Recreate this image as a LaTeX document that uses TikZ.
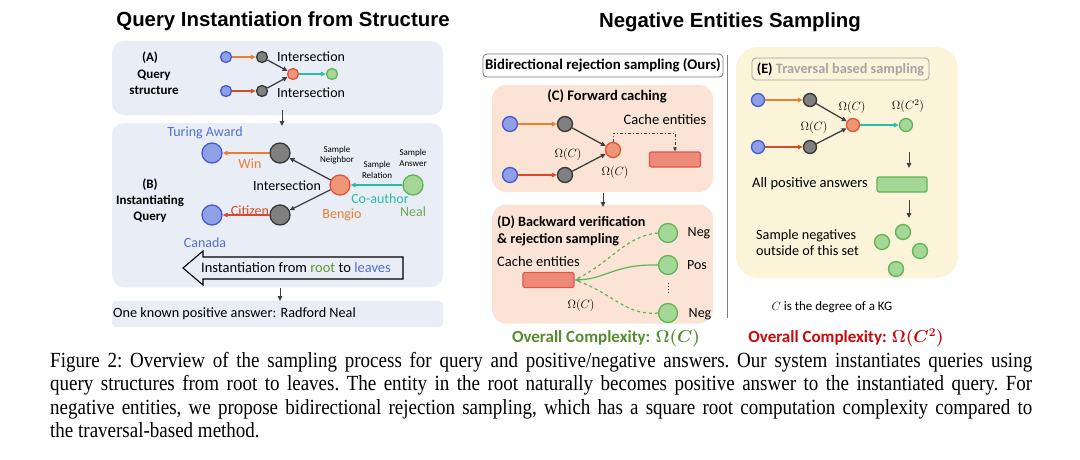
\documentclass[tikz,border=0pt]{standalone}
\usepackage{amsmath}
\usepackage{bm}
\usepackage{fontspec}
\setmainfont{Carlito}
\newfontfamily\arialfont{Liberation Sans}
\newfontfamily\timesfont[FakeStretch=0.88]{Liberation Serif}
\usetikzlibrary{arrows.meta}
\definecolor{panelblue}{RGB}{233,237,246}
\definecolor{panelpeach}{RGB}{251,228,214}
\definecolor{panelcream}{RGB}{251,244,217}
\definecolor{bfill}{RGB}{143,160,230}
\definecolor{bdraw}{RGB}{70,90,210}
\definecolor{gfill}{RGB}{128,128,128}
\definecolor{gdraw}{RGB}{55,55,55}
\definecolor{rfill}{RGB}{240,150,120}
\definecolor{rdraw}{RGB}{225,85,50}
\definecolor{nfill}{RGB}{165,215,150}
\definecolor{ndraw}{RGB}{95,180,90}
\definecolor{orangec}{RGB}{237,125,49}
\definecolor{redc}{RGB}{215,75,40}
\definecolor{tealc}{RGB}{40,190,165}
\definecolor{darkc}{RGB}{64,64,64}
\definecolor{bluetext}{RGB}{85,110,210}
\definecolor{greentext}{RGB}{110,170,90}
\definecolor{roottext}{RGB}{100,150,50}
\definecolor{cgreen}{RGB}{85,140,45}
\definecolor{cred}{RGB}{200,10,10}
\definecolor{cachefill}{RGB}{236,140,120}
\definecolor{cachedraw}{RGB}{230,80,80}
\definecolor{grayborder}{RGB}{120,120,120}
\definecolor{graytext}{RGB}{165,165,165}
\tikzset{
  nd/.style={circle, draw, line width=1.3pt, inner sep=0pt, minimum size=#1},
  nd/.default=12pt,
  bluenode/.style={nd=#1, fill=bfill, draw=bdraw},
  bluenode/.default=12pt,
  graynode/.style={nd=#1, fill=gfill, draw=gdraw},
  graynode/.default=12pt,
  rednode/.style={nd=#1, fill=rfill, draw=rdraw},
  rednode/.default=12pt,
  greennode/.style={nd=#1, fill=nfill, draw=ndraw},
  greennode/.default=12pt,
  arr/.style={-{Triangle[length=5pt,width=4.5pt]}, line width=1.3pt},
  panel/.style={rounded corners=12pt, inner sep=0pt},
  lbl/.style={inner sep=0pt, font=\fontsize{14}{16}\selectfont},
  small/.style={inner sep=0pt, align=center, font=\fontsize{9}{10.5}\selectfont},
  boldlbl/.style={inner sep=0pt, align=center, font=\fontsize{13}{16}\selectfont\bfseries},
  omega/.style={inner sep=0pt, font=\fontsize{13}{15}\selectfont},
  cachebox/.style={rectangle, rounded corners=2pt, fill=cachefill, draw=cachedraw, line width=1.2pt, minimum width=51pt, minimum height=15pt, inner sep=0pt},
  posbox/.style={rectangle, rounded corners=2pt, fill=nfill, draw=ndraw, line width=1.2pt, minimum width=50pt, minimum height=15pt, inner sep=0pt},
}
\begin{document}
\begin{tikzpicture}[x=1pt,y=-1pt]
\useasboundingbox[fill=white] (0,0) rectangle (1080,459);

% ---------------- Left panel ----------------
\node[inner sep=0pt, font=\arialfont\fontsize{20.4}{23}\selectfont\bfseries] (title1) at (283,21) {Query Instantiation from Structure};

\node[panel, fill=panelblue, minimum width=331pt, minimum height=74pt] (boxA) at (277.5,78) {};
\node[panel, fill=panelblue, minimum width=331pt, minimum height=164pt] (boxB) at (277.5,205) {};
\node[rounded corners=4pt, fill=panelblue, minimum width=331pt, minimum height=26pt, inner sep=0pt] (boxR) at (277.5,314) {};

% (A)
\node[boldlbl] (labA) at (150,58) {(A)};
\node[boldlbl] (labA2) at (154,82) {Query\\structure};
\node[bluenode=11pt] (a1) at (226,57) {};
\node[graynode=11pt] (a2) at (262,57) {};
\node[rednode=11pt] (a3) at (293,74) {};
\node[greennode=11pt] (a4) at (332,74) {};
\node[bluenode=11pt] (a5) at (226,91) {};
\node[graynode=11pt] (a6) at (262,91) {};
\draw[arr, orangec] (a1) -- (a2);
\draw[arr, redc] (a5) -- (a6);
\draw[arr, darkc] (a2) -- (a3);
\draw[arr, darkc] (a6) -- (a3);
\draw[arr, tealc] (a3) -- (a4);
\node[lbl, anchor=west] (intA1) at (277,57) {Intersection};
\node[lbl, anchor=west] (intA2) at (277,93) {Intersection};

\coordinate (ab1) at (282,110);
\coordinate (ab2) at (282,126);
\draw[arr, darkc, line width=1pt] (ab1) -- (ab2);

% (B)
\node[boldlbl] (labB) at (150,201) {(B)\\Instantiating\\Query};
\node[bluenode=20pt] (b1) at (212,153) {};
\node[graynode=20pt] (b2) at (280,153) {};
\node[rednode=20pt] (b3) at (340,185) {};
\node[greennode=20pt] (b4) at (413,185) {};
\node[graynode=20pt] (b5) at (280,215) {};
\node[bluenode=20pt] (b6) at (212,215) {};
\draw[arr, orangec] (b2) -- (b1);
\draw[arr, redc] (b5) -- (b6);
\draw[arr, darkc] (b3) -- (b2);
\draw[arr, darkc] (b3) -- (b5);
\draw[arr, tealc] (b4) -- (b3);
\node[lbl, text=bluetext] (turing) at (205,133) {Turing Award};
\node[lbl, text=bluetext] (canada) at (205,243) {Canada};
\node[lbl, text=orangec] (win) at (250,164) {Win};
\node[lbl, text=redc] (citizen) at (250,211) {Citizen};
\node[lbl] (intB) at (287,186) {Intersection};
\node[lbl, text=orangec] (bengio) at (342,215) {Bengio};
\node[lbl, text=tealc] (coauthor) at (380,199) {Co-author};
\node[lbl, text=greentext] (neal) at (413,212) {Neal};
\node[small] (sn) at (337,155) {Sample\\Neighbor};
\node[small] (sr) at (377,170) {Sample\\Relation};
\node[small] (sa) at (413,158) {Sample\\Answer};

\draw[line width=1.1pt, draw=black] (403,257) -- (203,257) -- (203,251) -- (183,268) -- (203,285) -- (203,279) -- (403,279) -- cycle;
\node[lbl, font=\fontsize{14.5}{16}\selectfont] (inst) at (296,268) {Instantiation from \textcolor{roottext}{root} to \textcolor{bluetext}{leaves}};

\coordinate (br1) at (280,288);
\coordinate (br2) at (280,301);
\draw[arr, darkc, line width=1pt] (br1) -- (br2);
\node[lbl, anchor=west, font=\fontsize{14.2}{16}\selectfont] (known) at (113,314) {One known positive answer: Radford Neal};

% ---------------- Middle panel ----------------
\node[inner sep=0pt, font=\arialfont\fontsize{20.4}{23}\selectfont\bfseries] (title2) at (730,22) {Negative Entities Sampling};

\node[rounded corners=4pt, draw=grayborder, line width=0.8pt, minimum width=240pt, minimum height=23pt, inner sep=0pt, font=\fontsize{14.8}{16}\selectfont\bfseries] (bidir) at (603,65.5) {Bidirectional rejection sampling (Ours)};

\node[panel, rounded corners=14pt, fill=panelpeach, minimum width=221pt, minimum height=107pt] (boxC) at (602.5,138.5) {};
\node[panel, rounded corners=14pt, fill=panelpeach, minimum width=221pt, minimum height=119pt] (boxD) at (602.5,264) {};

\node[boldlbl, font=\fontsize{14.6}{16}\selectfont\bfseries] (labC) at (607,96) {(C) Forward caching};
\node[bluenode=15pt] (c1) at (510,124) {};
\node[graynode=15pt] (c2) at (565,124) {};
\node[rednode=15pt] (c3) at (613,150) {};
\node[bluenode=15pt] (c4) at (510,175) {};
\node[graynode=15pt] (c5) at (565,175) {};
\draw[arr, orangec] (c1) -- (c2);
\draw[arr, redc] (c4) -- (c5);
\draw[arr, darkc] (c2) -- (c3);
\draw[arr, darkc] (c5) -- (c3);
\node[omega] (omC1) at (568,154) {$\Omega(C)$};
\node[omega] (omC2) at (615,172) {$\Omega(C)$};
\node[lbl, font=\fontsize{14.5}{16}\selectfont] (cacheT) at (665,120) {Cache entities};
\node[cachebox] (cacheC) at (675,159.5) {};
\draw[darkc, line width=0.9pt, dash dot, -{Triangle[length=4pt,width=3.5pt]}] (c3.north) |- ([yshift=18pt]cacheC.north) -- (cacheC.north);

\coordinate (cd1) at (603,193);
\coordinate (cd2) at (603,207);
\draw[arr, darkc, line width=1pt] (cd1) -- (cd2);

\node[boldlbl, anchor=west, align=left, font=\fontsize{14.2}{17}\selectfont\bfseries] (labD) at (497,231) {(D) Backward verification\\\& rejection sampling};
\node[lbl, font=\fontsize{14.5}{16}\selectfont, anchor=west] (cacheT2) at (497,262) {Cache entities};
\node[cachebox] (cacheD) at (548.5,280) {};
\node[greennode=19pt] (d1) at (668,233) {};
\node[greennode=19pt] (d2) at (668,265) {};
\node[greennode=19pt] (d3) at (668,313) {};
\node[lbl] (negT1) at (699,233) {Neg};
\node[lbl] (posT) at (697,265) {Pos};
\node[lbl] (negT2) at (700,314) {Neg};
\coordinate (dt1) at ([yshift=-8pt]d2.south);
\coordinate (dt2) at ([yshift=8pt]d3.north);
\draw[darkc, line width=1pt, dotted] (dt1) -- (dt2);
\draw[ndraw, line width=1.2pt, -{Triangle[length=5pt,width=4.5pt]}] (d2.west) .. controls (615,264) and (605,279) .. (cacheD.east);
\draw[ndraw, line width=1.2pt, dashed] (d1.west) .. controls (625,236) and (612,262) .. (cacheD.east);
\draw[ndraw, line width=1.2pt, dashed] (d3.west) .. controls (625,316) and (612,292) .. (cacheD.east);
\node[omega] (omD) at (581,305) {$\Omega(C)$};

\node[inner sep=0pt, text=cgreen, font=\fontsize{17}{19}\selectfont\bfseries] (ovC) at (606,338) {Overall Complexity: {\boldmath$\Omega(C)$}};

\coordinate (sep1) at (727,55);
\coordinate (sep2) at (727,318);
\draw[gray, line width=0.8pt] (sep1) -- (sep2);

% ---------------- Right panel ----------------
\node[panel, rounded corners=22pt, fill=panelcream, minimum width=222pt, minimum height=231pt] (boxE) at (847,162.5) {};
\node[rounded corners=4pt, draw=grayborder!70, line width=0.8pt, minimum width=177pt, minimum height=22pt, inner sep=0pt, font=\fontsize{14.3}{16}\selectfont\bfseries] (labE) at (840.5,69) {(E) \textcolor{graytext}{Traversal based sampling}};
\node[bluenode=13pt] (e1) at (758,100) {};
\node[graynode=13pt] (e2) at (810,100) {};
\node[rednode=13pt] (e3) at (853,125) {};
\node[greennode=13pt] (e4) at (906,125) {};
\node[bluenode=13pt] (e5) at (758,147) {};
\node[graynode=13pt] (e6) at (810,147) {};
\draw[arr, orangec] (e1) -- (e2);
\draw[arr, redc] (e5) -- (e6);
\draw[arr, darkc] (e2) -- (e3);
\draw[arr, darkc] (e6) -- (e3);
\draw[arr, tealc] (e3) -- (e4);
\node[omega] (omE1) at (852,107) {$\Omega(C)$};
\node[omega] (omE2) at (814,127) {$\Omega(C)$};
\node[omega] (omE3) at (908,106) {$\Omega(C^2)$};
\coordinate (ea1) at (909,152);
\coordinate (ea2) at (909,168);
\draw[arr, darkc, line width=1pt] (ea1) -- (ea2);
\node[lbl, font=\fontsize{14.5}{16}\selectfont, anchor=west] (allpos) at (752,184) {All positive answers};
\node[posbox] (posE) at (902,184.5) {};
\coordinate (eb1) at (909,200);
\coordinate (eb2) at (909,218);
\draw[arr, darkc, line width=1pt] (eb1) -- (eb2);
\node[lbl, anchor=west, align=left, font=\fontsize{14.2}{16}\selectfont] (sampneg) at (756,243) {Sample negatives\\outside of this set};
\node[greennode=15pt] (g1) at (903,232) {};
\node[greennode=15pt] (g2) at (882,242) {};
\node[greennode=15pt] (g3) at (920,251) {};
\node[greennode=15pt] (g4) at (896,269) {};

\node[lbl, font=\fontsize{13}{15}\selectfont] (degree) at (832,307) {$C$ is the degree of a KG};
\node[inner sep=0pt, text=cred, font=\fontsize{17}{19}\selectfont\bfseries] (ovE) at (846,338) {Overall Complexity: {\boldmath$\Omega(C^2)$}};

% ---------------- Caption ----------------
\node[anchor=north west, inner sep=0pt, text width=982pt, align=justify, font=\timesfont\fontsize{21.6}{23.3}\selectfont\frenchspacing] (caption) at (50,352)
{Figure 2: Overview of the sampling process for query and positive/negative answers. Our system instantiates queries using\linebreak
query structures from root to leaves. The entity in the root naturally becomes positive answer to the instantiated query. For\linebreak
negative entities, we propose bidirectional rejection sampling, which has a square root computation complexity compared to\linebreak
the traversal-based method.};
\end{tikzpicture}
\end{document}
